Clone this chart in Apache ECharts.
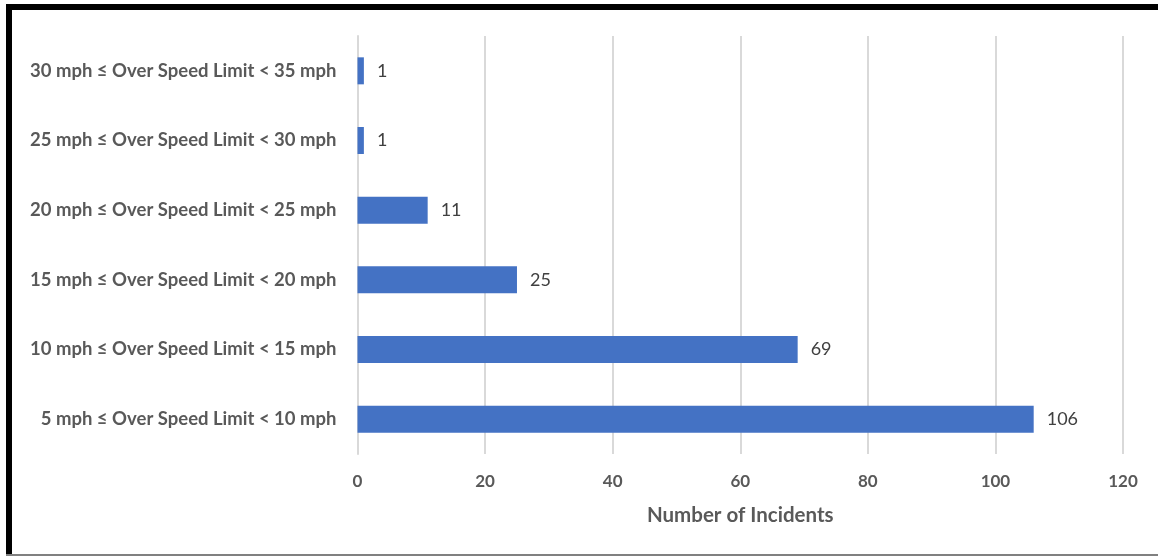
<!DOCTYPE html>
<html>
<head>
<meta charset="utf-8">
<script src="https://cdn.jsdelivr.net/npm/echarts@6/dist/echarts.min.js"></script>
<style>
  html, body { margin: 0; padding: 0; background: #fff; }
  #chart { width: 1158px; height: 556px; }
</style>
</head>
<body>
<div id="chart"></div>
<script>
// Speeding bands, listed bottom to top
const categories = [
  '5 mph ≤ Over Speed Limit < 10 mph',
  '10 mph ≤ Over Speed Limit < 15 mph',
  '15 mph ≤ Over Speed Limit < 20 mph',
  '20 mph ≤ Over Speed Limit < 25 mph',
  '25 mph ≤ Over Speed Limit < 30 mph',
  '30 mph ≤ Over Speed Limit < 35 mph'
];
const incidents = [106, 69, 25, 11, 1, 1];
const xTicks = [0, 20, 40, 60, 80, 100, 120];

const font = 'Lato, "Noto Sans", sans-serif';
const chart = echarts.init(document.getElementById('chart'), null, { renderer: 'canvas' });

chart.setOption({
  backgroundColor: '#ffffff',
  animation: false,
  grid: { left: 357.5, right: 35, top: 36, bottom: 102 },
  graphic: [
    // frame: heavy black top and left, thin grey bottom
    { type: 'rect', shape: { x: 6, y: 4, width: 1152, height: 6 }, style: { fill: '#000' }, silent: true },
    { type: 'rect', shape: { x: 6, y: 4, width: 6, height: 552 }, style: { fill: '#000' }, silent: true },
    { type: 'rect', shape: { x: 6, y: 554, width: 1152, height: 2 }, style: { fill: '#808080' }, silent: true }
  ],
  xAxis: {
    type: 'value',
    min: xTicks[0],
    max: xTicks[xTicks.length - 1],
    interval: xTicks[1] - xTicks[0],
    name: 'Number of Incidents',
    nameLocation: 'middle',
    nameGap: 51,
    nameTextStyle: { color: '#595959', fontSize: 20.5, fontWeight: 'bold', fontFamily: font },
    axisLine: { show: false },
    axisTick: { show: false },
    axisLabel: { color: '#595959', fontSize: 17, fontWeight: 'bold', fontFamily: font, margin: 19 },
    splitLine: { lineStyle: { color: '#d9d9d9', width: 2 } }
  },
  yAxis: {
    type: 'category',
    data: categories,
    axisLine: { show: true, lineStyle: { color: '#d9d9d9', width: 2 } },
    axisTick: { show: false },
    axisLabel: { color: '#595959', fontSize: 18.5, fontWeight: 'bold', fontFamily: font, margin: 21 }
  },
  series: [{
    type: 'bar',
    data: incidents,
    barWidth: 27,
    itemStyle: { color: '#4472c4' },
    label: {
      show: true,
      position: 'right',
      distance: 13,
      color: '#404040',
      fontSize: 18,
      fontFamily: font
    }
  }]
});
</script>
</body>
</html>
